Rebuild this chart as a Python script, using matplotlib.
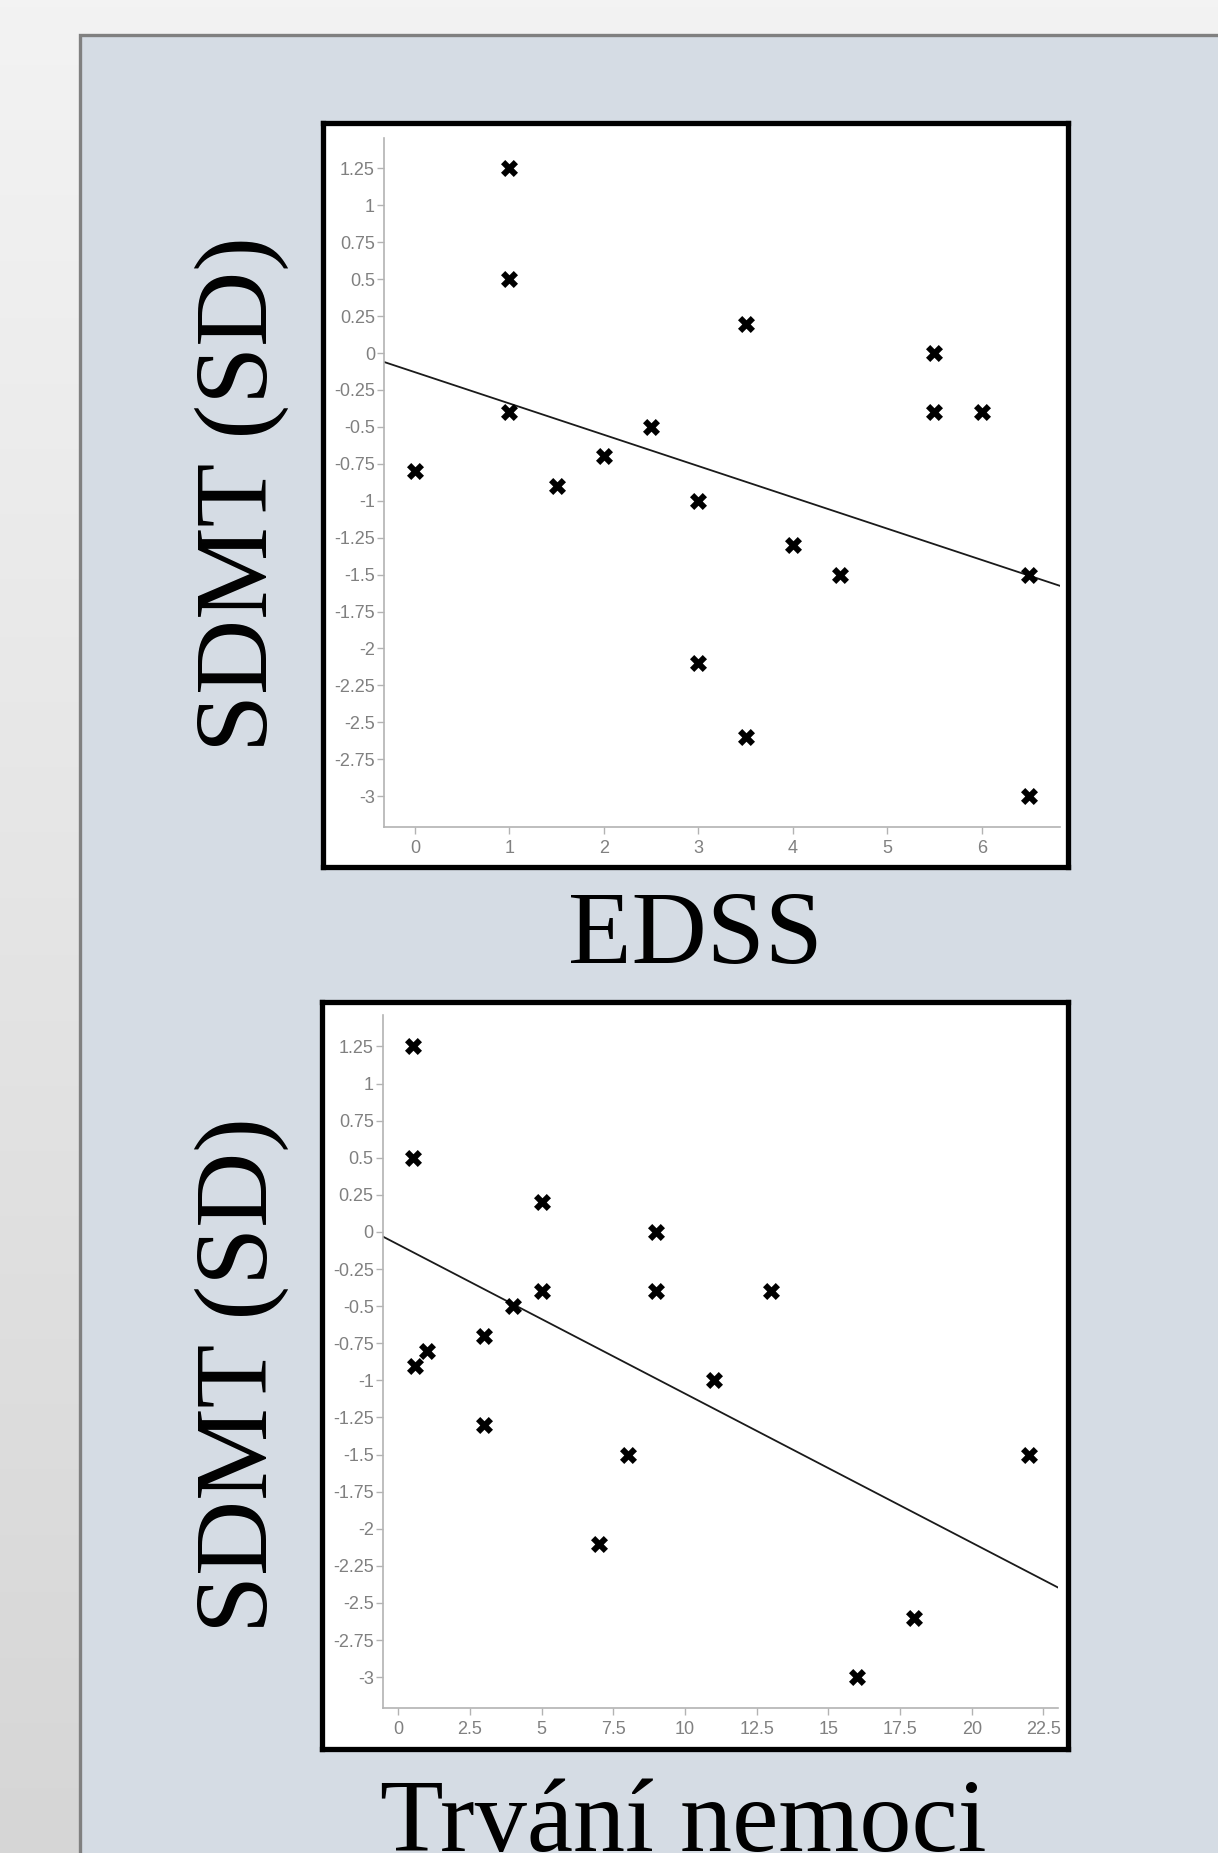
import numpy as np
import matplotlib
matplotlib.use("Agg")
import matplotlib.pyplot as plt
from matplotlib.patches import Rectangle

# ---------------- data ----------------
edss = [0, 1, 1, 1, 1.5, 2, 2.5, 3, 3, 3.5, 3.5, 4, 4.5, 5.5, 5.5, 6, 6.5, 6.5]
sdmt_edss = [-0.8, 1.25, 0.5, -0.4, -0.9, -0.7, -0.5, -1.0, -2.1, 0.2, -2.6, -1.3, -1.5,
             0.0, -0.4, -0.4, -1.5, -3.0]

duration = [0.5, 0.5, 0.6, 1, 3, 3, 4, 5, 5, 7, 8, 9, 9, 11, 13, 16, 18, 22]
sdmt_dur = [1.25, 0.5, -0.9, -0.8, -0.7, -1.3, -0.5, 0.2, -0.4, -2.1, -1.5, 0.0, -0.4,
            -1.0, -0.4, -3.0, -2.6, -1.5]

y_ticks = [-3, -2.75, -2.5, -2.25, -2, -1.75, -1.5, -1.25, -1, -0.75, -0.5, -0.25,
           0, 0.25, 0.5, 0.75, 1, 1.25]
x_ticks_edss = [0, 1, 2, 3, 4, 5, 6]
x_ticks_dur = [0, 2.5, 5, 7.5, 10, 12.5, 15, 17.5, 20, 22.5]

y_label = "SDMT (SD)"
x_label_top = "EDSS"
x_label_bottom = "Trvání nemoci"

# ---------------- figure ----------------
W, H = 1218, 1853
fig = plt.figure(figsize=(W / 100, H / 100), dpi=100)

def fx(px):
    return px / W

def fy(py):
    return 1 - py / H

# background gradient
bg = fig.add_axes([0, 0, 1, 1], zorder=-10)
grad = np.linspace(0, 1, 256).reshape(-1, 1)
bg.imshow(grad, aspect="auto", cmap=matplotlib.colors.LinearSegmentedColormap.from_list(
    "g", ["#f3f3f3", "#d6d6d6"]), extent=[0, 1, 0, 1], transform=bg.transAxes)
bg.set_axis_off()

# panel
fig.patches.append(Rectangle((fx(79.5), fy(H + 20)), fx(W + 50), (H + 20 - 34.5) / H,
                             transform=fig.transFigure, facecolor="#d5dce4",
                             edgecolor="#808080", linewidth=2.4, zorder=-5))

def fmt(v):
    return "%g" % v

def make_plot(frame_px, ax_px, xlim, ylim, xs, ys, xticks, xlabel, xlabel_x, xlabel_y,
              ylabel_center):
    # black frame with white interior
    l, t, r, b = frame_px
    fr = fig.add_axes([fx(l), fy(b), fx(r - l), (b - t) / H], zorder=1)
    fr.set_xticks([]); fr.set_yticks([])
    fr.set_facecolor("white")
    for s in fr.spines.values():
        s.set_color("black"); s.set_linewidth(3.8)

    l, t, r, b = ax_px
    ax = fig.add_axes([fx(l), fy(b), fx(r - l), (b - t) / H], zorder=2)
    ax.patch.set_alpha(0)
    ax.set_xlim(*xlim); ax.set_ylim(*ylim)
    ax.scatter(xs, ys, marker="X", s=150, color="black", linewidths=0, zorder=3)
    k, c = np.polyfit(xs, ys, 1)
    xx = np.array(xlim)
    ax.plot(xx, k * xx + c, color="#1a1a1a", lw=1.3, zorder=2)
    for sp in ["top", "right"]:
        ax.spines[sp].set_visible(False)
    for sp in ["left", "bottom"]:
        ax.spines[sp].set_color("#b3b3b3"); ax.spines[sp].set_linewidth(1.2)
    ax.set_yticks(y_ticks)
    ax.set_yticklabels([fmt(v) for v in y_ticks])
    ax.set_xticks(xticks)
    ax.set_xticklabels([fmt(v) for v in xticks])
    ax.tick_params(colors="#b3b3b3", labelcolor="#808080", length=5, width=1,
                   labelsize=13, pad=1.5)
    for lab in ax.get_xticklabels() + ax.get_yticklabels():
        lab.set_fontfamily("Liberation Sans")
    ax.tick_params(axis="x", pad=4)

    fig.text(fx(xlabel_x), fy(xlabel_y), xlabel, ha="center", va="baseline",
             fontsize=75, family="Liberation Serif", color="black")
    fig.text(fx(242), fy(ylabel_center), y_label, ha="center", va="center",
             rotation=90, fontsize=75, family="Liberation Serif", color="black")
    return ax

make_plot((323, 123, 1068, 867), (384, 138.3, 1060, 827.3), (-0.328, 6.829), (-3.211, 1.454),
          edss, sdmt_edss, x_ticks_edss, x_label_top, 695, 963, 494)
make_plot((322, 1002, 1068, 1749), (382.7, 1015, 1058.3, 1708.3), (-0.544, 23.02), (-3.21, 1.462),
          duration, sdmt_dur, x_ticks_dur, x_label_bottom, 683, 1851, 1375)

fig.savefig("out.png", dpi=100)
